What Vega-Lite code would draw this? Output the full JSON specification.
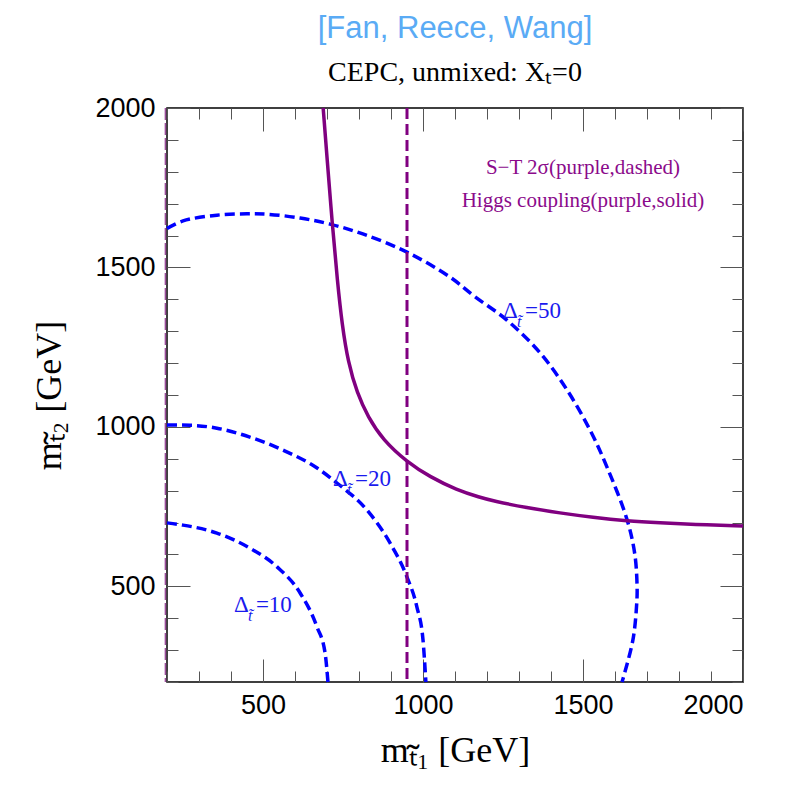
{
  "$schema": "https://vega.github.io/schema/vega-lite/v6.json",
  "width": 576,
  "height": 574,
  "autosize": "none",
  "padding": {"left": 167, "top": 108, "right": 64, "bottom": 108},
  "background": "white",
  "config": {
    "view": {"stroke": "black", "strokeWidth": 1.5},
    "axis": {"labelColor": "black", "titleColor": "black", "grid": false, "domain": false, "tickColor": "#555", "tickWidth": 1, "format": "d"}
  },
  "title": {
    "text": "[Fan, Reece, Wang]",
    "subtitle": "CEPC, unmixed: Xₜ=0",
    "anchor": "middle",
    "frame": "group",
    "font": "Liberation Sans",
    "fontSize": 31,
    "fontWeight": "normal",
    "color": "#5aabf5",
    "subtitleFont": "Liberation Serif",
    "subtitleFontSize": 28,
    "subtitleColor": "black",
    "subtitlePadding": 14,
    "offset": 6
  },
  "datasets": {
    "d10": [
      {"i": 0, "x": 200, "y": 699}, {"i": 1, "x": 250, "y": 692}, {"i": 2, "x": 356, "y": 667},
      {"i": 3, "x": 459, "y": 620}, {"i": 4, "x": 544, "y": 561}, {"i": 5, "x": 616, "y": 479},
      {"i": 6, "x": 669, "y": 372}, {"i": 7, "x": 694, "y": 291}, {"i": 8, "x": 703, "y": 200}
    ],
    "d20": [
      {"i": 0, "x": 200, "y": 1006}, {"i": 1, "x": 272, "y": 1005}, {"i": 2, "x": 356, "y": 996},
      {"i": 3, "x": 459, "y": 968}, {"i": 4, "x": 563, "y": 927}, {"i": 5, "x": 669, "y": 871},
      {"i": 6, "x": 731, "y": 824}, {"i": 7, "x": 825, "y": 739}, {"i": 8, "x": 897, "y": 636},
      {"i": 9, "x": 950, "y": 529}, {"i": 10, "x": 981, "y": 435}, {"i": 11, "x": 1000, "y": 332},
      {"i": 12, "x": 1009, "y": 200}
    ],
    "d50": [
      {"i": 0, "x": 200, "y": 1622}, {"i": 1, "x": 250, "y": 1646}, {"i": 2, "x": 356, "y": 1664},
      {"i": 3, "x": 450, "y": 1668}, {"i": 4, "x": 512, "y": 1667}, {"i": 5, "x": 616, "y": 1655},
      {"i": 6, "x": 709, "y": 1636}, {"i": 7, "x": 812, "y": 1605}, {"i": 8, "x": 950, "y": 1548},
      {"i": 9, "x": 1084, "y": 1470}, {"i": 10, "x": 1160, "y": 1410}, {"i": 11, "x": 1262, "y": 1335},
      {"i": 12, "x": 1366, "y": 1232}, {"i": 13, "x": 1450, "y": 1116}, {"i": 14, "x": 1522, "y": 990},
      {"i": 15, "x": 1575, "y": 874}, {"i": 16, "x": 1638, "y": 708}, {"i": 17, "x": 1662, "y": 600},
      {"i": 18, "x": 1669, "y": 500}, {"i": 19, "x": 1668, "y": 448}, {"i": 20, "x": 1656, "y": 332},
      {"i": 21, "x": 1622, "y": 200}
    ],
    "higgs": [
      {"i": 0, "x": 688, "y": 2000}, {"i": 1, "x": 700, "y": 1846}, {"i": 2, "x": 716, "y": 1641},
      {"i": 3, "x": 733, "y": 1452}, {"i": 4, "x": 747, "y": 1322}, {"i": 5, "x": 766, "y": 1202},
      {"i": 6, "x": 794, "y": 1106}, {"i": 7, "x": 828, "y": 1031}, {"i": 8, "x": 875, "y": 959},
      {"i": 9, "x": 950, "y": 890}, {"i": 10, "x": 1022, "y": 843}, {"i": 11, "x": 1106, "y": 802},
      {"i": 12, "x": 1178, "y": 779}, {"i": 13, "x": 1219, "y": 768}, {"i": 14, "x": 1325, "y": 746},
      {"i": 15, "x": 1428, "y": 730}, {"i": 16, "x": 1531, "y": 716}, {"i": 17, "x": 1638, "y": 705},
      {"i": 18, "x": 1741, "y": 699}, {"i": 19, "x": 1844, "y": 694}, {"i": 20, "x": 2000, "y": 689}
    ],
    "st": [{"x": 950}],
    "edge": [{"x": 195}],
    "notes": [
      {"x": 1500, "y": 1793, "t": "S−T 2σ(purple,dashed)"},
      {"x": 1500, "y": 1690, "t": "Higgs coupling(purple,solid)"}
    ],
    "labs": [
      {"x": 1250, "y": 1341, "d": "Δ", "s": "t̃", "v": "=50"},
      {"x": 719, "y": 815, "d": "Δ", "s": "t̃", "v": "=20"},
      {"x": 409, "y": 419, "d": "Δ", "s": "t̃", "v": "=10"}
    ]
  },
  "resolve": {"axis": {"x": "independent", "y": "independent"}},
  "layer": [
    {
      "data": {"name": "d10"},
      "mark": {"type": "line", "color": "#0000ff", "strokeWidth": 3.5, "strokeDash": [10, 5], "interpolate": "monotone"},
      "encoding": {
        "x": {"field": "x", "type": "quantitative", "scale": {"domain": [200, 2000], "nice": false, "zero": false},
          "axis": {"orient": "bottom", "values": [200,300,400,500,600,700,800,900,1000,1100,1200,1300,1400,1500,1600,1700,1800,1900,2000], "tickSize": -11, "labels": false, "title": null}},
        "y": {"field": "y", "type": "quantitative", "scale": {"domain": [200, 2000], "nice": false, "zero": false},
          "axis": {"orient": "left", "values": [200,300,400,500,600,700,800,900,1000,1100,1200,1300,1400,1500,1600,1700,1800,1900,2000], "tickSize": -11, "labels": false, "title": null}},
        "order": {"field": "i"}
      }
    },
    {
      "data": {"name": "d20"},
      "mark": {"type": "line", "color": "#0000ff", "strokeWidth": 3.5, "strokeDash": [10, 5], "interpolate": "monotone"},
      "encoding": {
        "x": {"field": "x", "type": "quantitative", "scale": {"domain": [200, 2000], "nice": false, "zero": false},
          "axis": {"orient": "bottom", "values": [500, 1000, 1500, 2000], "tickSize": -23, "labelFont": "Liberation Sans", "labelFontSize": 27, "labelPadding": 33,
            "title": "mₜ̃₁ [GeV]", "titleFont": "Liberation Serif", "titleFontSize": 36, "titleFontWeight": "normal", "titlePadding": 15}},
        "y": {"field": "y", "type": "quantitative", "scale": {"domain": [200, 2000], "nice": false, "zero": false},
          "axis": {"orient": "left", "values": [500, 1000, 1500, 2000], "tickSize": -23, "labelFont": "Liberation Sans", "labelFontSize": 27, "labelPadding": 35,
            "title": "mₜ̃₂ [GeV]", "titleFont": "Liberation Serif", "titleFontSize": 36, "titleFontWeight": "normal", "titlePadding": 26}},
        "order": {"field": "i"}
      }
    },
    {
      "data": {"name": "d50"},
      "mark": {"type": "line", "color": "#0000ff", "strokeWidth": 3.5, "strokeDash": [10, 5], "interpolate": "catmull-rom"},
      "encoding": {
        "x": {"field": "x", "type": "quantitative", "scale": {"domain": [200, 2000], "nice": false, "zero": false},
          "axis": {"orient": "top", "values": [200,300,400,500,600,700,800,900,1000,1100,1200,1300,1400,1500,1600,1700,1800,1900,2000], "tickSize": -11, "labels": false, "title": null}},
        "y": {"field": "y", "type": "quantitative", "scale": {"domain": [200, 2000], "nice": false, "zero": false},
          "axis": {"orient": "right", "values": [200,300,400,500,600,700,800,900,1000,1100,1200,1300,1400,1500,1600,1700,1800,1900,2000], "tickSize": -11, "labels": false, "title": null}},
        "order": {"field": "i"}
      }
    },
    {
      "data": {"name": "higgs"},
      "mark": {"type": "line", "color": "#800080", "strokeWidth": 3.5, "interpolate": "basis"},
      "encoding": {
        "x": {"field": "x", "type": "quantitative", "scale": {"domain": [200, 2000], "nice": false, "zero": false},
          "axis": {"orient": "top", "values": [500, 1000, 1500, 2000], "tickSize": -23, "labels": false, "title": null}},
        "y": {"field": "y", "type": "quantitative", "scale": {"domain": [200, 2000], "nice": false, "zero": false},
          "axis": {"orient": "right", "values": [500, 1000, 1500, 2000], "tickSize": -23, "labels": false, "title": null}},
        "order": {"field": "i"}
      }
    },
    {
      "data": {"name": "st"},
      "mark": {"type": "rule", "color": "#800080", "strokeWidth": 3, "strokeDash": [11, 5]},
      "encoding": {
        "x": {"field": "x", "type": "quantitative", "scale": {"domain": [200, 2000], "nice": false, "zero": false}, "axis": null}
      }
    },
    {
      "data": {"name": "edge"},
      "mark": {"type": "rule", "color": "#9b4c9b", "strokeWidth": 1.5, "strokeDash": [12, 3], "clip": false},
      "encoding": {
        "x": {"field": "x", "type": "quantitative", "scale": {"domain": [200, 2000], "nice": false, "zero": false}, "axis": null}
      }
    },
    {
      "data": {"name": "notes"},
      "mark": {"type": "text", "font": "Liberation Serif", "fontSize": 21, "color": "#8b0a8b", "align": "center", "baseline": "alphabetic"},
      "encoding": {
        "x": {"field": "x", "type": "quantitative", "scale": {"domain": [200, 2000], "nice": false, "zero": false}, "axis": null},
        "y": {"field": "y", "type": "quantitative", "scale": {"domain": [200, 2000], "nice": false, "zero": false}, "axis": null},
        "text": {"field": "t"}
      }
    },
    {
      "data": {"name": "labs"},
      "mark": {"type": "text", "font": "Liberation Serif", "fontSize": 23, "color": "#1a1aee", "align": "left", "baseline": "alphabetic"},
      "encoding": {
        "x": {"field": "x", "type": "quantitative", "scale": {"domain": [200, 2000], "nice": false, "zero": false}, "axis": null},
        "y": {"field": "y", "type": "quantitative", "scale": {"domain": [200, 2000], "nice": false, "zero": false}, "axis": null},
        "text": {"field": "d"}
      }
    },
    {
      "data": {"name": "labs"},
      "mark": {"type": "text", "font": "Liberation Serif", "fontSize": 16, "fontStyle": "italic", "color": "#1a1aee", "align": "left", "baseline": "alphabetic", "dx": 14, "dy": 9},
      "encoding": {
        "x": {"field": "x", "type": "quantitative", "scale": {"domain": [200, 2000], "nice": false, "zero": false}, "axis": null},
        "y": {"field": "y", "type": "quantitative", "scale": {"domain": [200, 2000], "nice": false, "zero": false}, "axis": null},
        "text": {"field": "s"}
      }
    },
    {
      "data": {"name": "labs"},
      "mark": {"type": "text", "font": "Liberation Serif", "fontSize": 23, "color": "#1a1aee", "align": "left", "baseline": "alphabetic", "dx": 22},
      "encoding": {
        "x": {"field": "x", "type": "quantitative", "scale": {"domain": [200, 2000], "nice": false, "zero": false}, "axis": null},
        "y": {"field": "y", "type": "quantitative", "scale": {"domain": [200, 2000], "nice": false, "zero": false}, "axis": null},
        "text": {"field": "v"}
      }
    }
  ]
}
